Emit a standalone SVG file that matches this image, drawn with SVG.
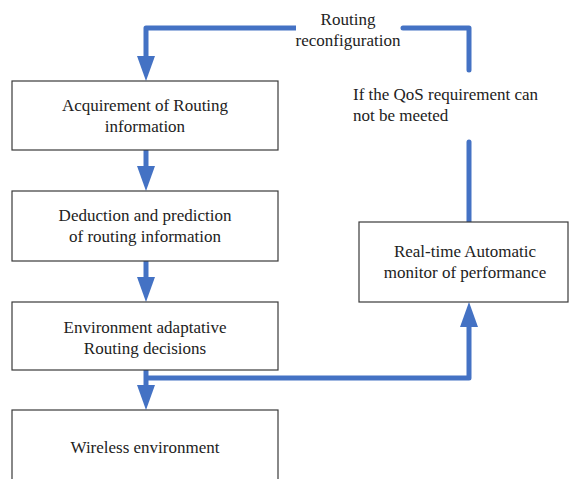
<svg xmlns="http://www.w3.org/2000/svg" width="570" height="479" viewBox="0 0 570 479" font-family="Liberation Serif, DejaVu Serif, serif" font-size="17">
<style>
.box{fill:#fff;stroke:#3a3a3a;stroke-width:1.2}
.c{text-anchor:middle}
text{fill:#222}
.ln{fill:none;stroke:#4472C4;stroke-width:5;stroke-linejoin:round}
.ah{fill:#4472C4}
</style>
<g id="connectors">
<path class="ln" d="M296,28 H146 V57"/>
<path class="ah" d="M137,56 H155 L146,81 z"/>
<path class="ln" d="M403,28 H469 V70" stroke-linecap="round"/>
<path class="ln" d="M469,142 V222" stroke-linecap="round"/>
<path class="ln" d="M146,150 V167"/>
<path class="ah" d="M137,166 H155 L146,191 z"/>
<path class="ln" d="M146,261 V278"/>
<path class="ah" d="M137,277 H155 L146,302 z"/>
<path class="ln" d="M146,370 V386"/>
<path class="ah" d="M137,385 H155 L146,410 z"/>
<path class="ln" d="M146,378 H469 V326"/>
<path class="ah" d="M460,327 H478 L469,302 z"/>
<text class="c" x="348" y="25">Routing</text>
<text class="c" x="348" y="46">reconfiguration</text>
<text x="353" y="100">If the QoS requirement can</text>
<text x="353" y="121">not be meeted</text>
</g>
<g id="n1">
<rect class="box" x="12" y="81" width="266" height="69"/>
<text class="c" x="145" y="111">Acquirement of Routing</text>
<text class="c" x="145" y="132">information</text>
</g>
<g id="n2">
<rect class="box" x="12" y="191" width="266" height="70"/>
<text class="c" x="145" y="221">Deduction and prediction</text>
<text class="c" x="145" y="242">of routing information</text>
</g>
<g id="n3">
<rect class="box" x="12" y="302" width="266" height="68"/>
<text class="c" x="145" y="333">Environment adaptative</text>
<text class="c" x="145" y="354">Routing decisions</text>
</g>
<g id="n4">
<rect class="box" x="12" y="410" width="266" height="75"/>
<text class="c" x="145" y="453">Wireless environment</text>
</g>
<g id="n5">
<rect class="box" x="359" y="222" width="209" height="80"/>
<text class="c" x="465" y="257">Real-time Automatic</text>
<text class="c" x="465" y="278">monitor of performance</text>
</g>
</svg>
